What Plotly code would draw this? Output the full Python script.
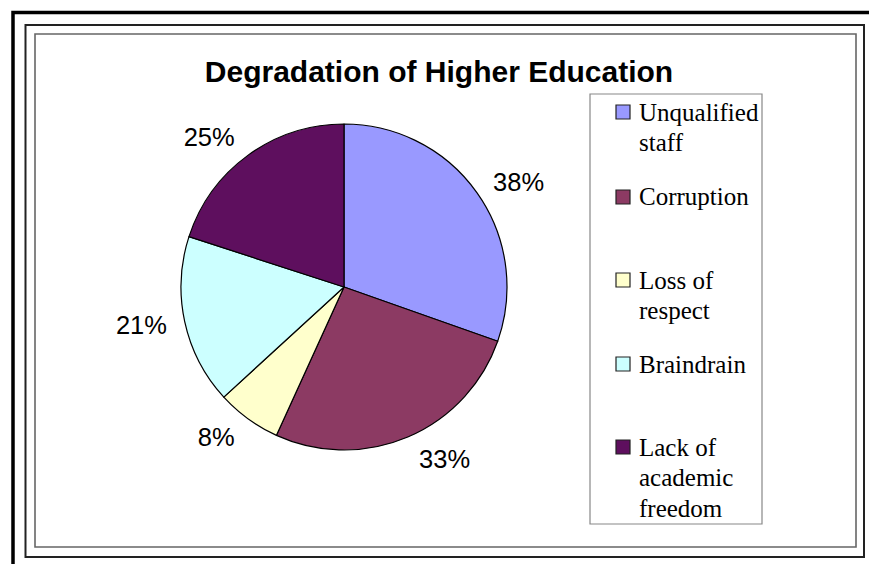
import plotly.graph_objects as go

# ---- data ----
labels = ["Unqualified staff", "Corruption", "Loss of respect", "Braindrain", "Lack of academic freedom"]
legend_lines = [["Unqualified", "staff"], ["Corruption"], ["Loss of", "respect"], ["Braindrain"], ["Lack of", "academic", "freedom"]]
values = [38, 33, 8, 21, 25]
value_labels = [f"{v}%" for v in values]
colors = ["#9999FF", "#8C3A63", "#FFFFCC", "#CCFFFF", "#5E0F5E"]
title_text = "Degradation of Higher Education"

W, H = 869, 564
def px(x):
    return x / W
def py(y):
    return 1 - y / H

cx, cy, r = 344, 287, 163
r_lab = 174  # radius of the invisible carrier pie for the outside labels

fig = go.Figure()
# visible pie
fig.add_trace(go.Pie(
    labels=labels,
    values=values,
    textinfo="none",
    marker=dict(colors=colors, line=dict(color="black", width=1.2)),
    sort=False,
    direction="clockwise",
    rotation=0,
    showlegend=False,
    hoverinfo="label+value",
    domain=dict(x=[px(cx - r), px(cx + r)], y=[py(cy + r), py(cy - r)]),
))
# invisible carrier pie for the outside percentage labels
fig.add_trace(go.Pie(
    labels=labels,
    values=values,
    text=value_labels,
    textinfo="text",
    textposition="outside",
    textfont=dict(family="Liberation Sans, Arial", size=25.5, color="black"),
    marker=dict(colors=["rgba(0,0,0,0)"] * len(values), line=dict(width=0)),
    sort=False,
    direction="clockwise",
    rotation=0,
    showlegend=False,
    hoverinfo="skip",
    domain=dict(x=[px(cx - r_lab), px(cx + r_lab)], y=[py(cy + r_lab), py(cy - r_lab)]),
))

shapes = []
# outer frames
shapes.append(dict(type="rect", xref="paper", yref="paper",
                   x0=px(13), x1=px(873), y0=py(575), y1=py(12.5),
                   line=dict(color="black", width=3.5)))
shapes.append(dict(type="rect", xref="paper", yref="paper",
                   x0=px(25.5), x1=px(864), y0=py(557), y1=py(25),
                   line=dict(color="#222", width=2)))
shapes.append(dict(type="rect", xref="paper", yref="paper",
                   x0=px(35), x1=px(856), y0=py(547), y1=py(34),
                   line=dict(color="#666", width=1.6)))
# legend box
shapes.append(dict(type="rect", xref="paper", yref="paper",
                   x0=px(590), x1=px(762), y0=py(524), y1=py(94),
                   line=dict(color="#888", width=1.2)))

annotations = []
first_line_y = [112, 197, 280, 364, 447]
line_gap = 30.5
for lines, col, y0 in zip(legend_lines, colors, first_line_y):
    shapes.append(dict(type="rect", xref="paper", yref="paper",
                       x0=px(616), x1=px(630), y0=py(y0 + 7), y1=py(y0 - 7),
                       fillcolor=col, line=dict(color="#222", width=1.2)))
    for i, t in enumerate(lines):
        annotations.append(dict(
            text=t, xref="paper", yref="paper",
            x=px(637), y=py(y0 + i * line_gap),
            xanchor="left", yanchor="middle", showarrow=False,
            font=dict(family="Liberation Serif, Times New Roman", size=25, color="black"),
        ))

fig.update_layout(
    width=W, height=H,
    margin=dict(l=0, r=0, t=0, b=0),
    paper_bgcolor="white",
    plot_bgcolor="white",
    title=dict(text="<b>" + title_text + "</b>", x=px(439), y=py(71),
               xanchor="center", yanchor="middle",
               font=dict(family="Liberation Sans, Arial", size=30, color="black")),
    shapes=shapes,
    annotations=annotations,
)

fig.write_html("out.html",
               config={"displayModeBar": False},
               post_script="document.body.style.margin='0';document.body.style.overflow='hidden';")
